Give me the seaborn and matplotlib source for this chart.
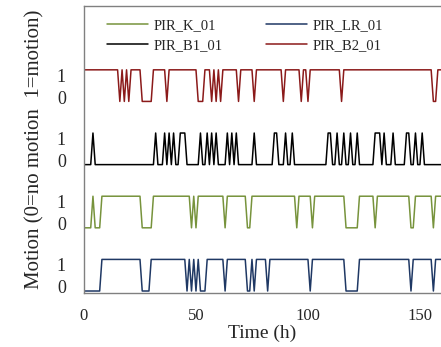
import numpy as np
import pandas as pd
import matplotlib
matplotlib.use("Agg")
import matplotlib.pyplot as plt
import seaborn as sns

# hourly 0/1 motion states (hours 0..160), groups of 10 hours
pir_b2_01 = ("1111111111" "1111110101" "0111110000" "0111111011" "1111111111"
             "1000111010" "1011111110" "1111110111" "1111111110" "1111111011"
             "0111111111" "1111101111" "1111111111" "1111111111" "1111111111"
             "1111110011" "1")
pir_b1_01 = ("0000100000" "0000000000" "0000000000" "0010001010" "1001110000"
             "0010010101" "0000101010" "0000001000" "0000011000" "1001000000"
             "0000000001" "1001001001" "0010000000" "1110100010" "0000110010"
             "0100000000" "0")
pir_k_01 = ("0000100011" "1111111111" "1111110000" "0111111111" "1111111101"
            "0111111111" "1110111111" "1110011111" "1111111111" "1111101111"
            "1101111111" "1111111000" "0001111111" "0111111111" "1111110011"
            "1111110111" "1")
pir_lr_01 = ("0000000011" "1111111111" "1111110000" "1111111111" "1111110101"
             "0100011111" "1110111111" "1110010111" "1101111111" "1111111111"
             "1011111111" "1111111000" "0001111111" "1111111111" "1111110111"
             "1111110111" "1")

sensors = ["PIR_K_01", "PIR_LR_01", "PIR_B1_01", "PIR_B2_01"]
series_states = [pir_k_01, pir_lr_01, pir_b1_01, pir_b2_01]
offsets = [2, 0, 4, 6]
colors = ["#77933C", "#1F3864", "#000000", "#8B1A1A"]
x_ticks = [0, 50, 100, 150]

rows = []
for name, states, off in zip(sensors, series_states, offsets):
    for h, s in enumerate(states):
        rows.append({"hour": h, "value": int(s) + off, "sensor": name})
df = pd.DataFrame(rows)

sns.set_style("white")
plt.rcParams["font.family"] = ["Liberation Serif", "DejaVu Serif"]

fig = plt.figure(figsize=(4.41, 3.47), dpi=100)
ax = fig.add_axes([84 / 441, 54 / 347, 1 - 84 / 441, (293 - 6) / 347])

for name, col in zip(sensors, colors):
    sns.lineplot(data=df[df["sensor"] == name], x="hour", y="value",
                 color=col, linewidth=1.1, ax=ax, label=name)

ax.set_xlim(0, 159.4)
ax.set_ylim(-0.063, 9.02)
ax.set_xticks(x_ticks)
ax.set_xticklabels([str(t) for t in x_ticks])
yt, yl = [], []
for off in [0, 2, 4, 6]:
    yt += [off + 0.13, off + 0.83]
    yl += ["0", "1"]
ax.set_yticks(yt)
ax.set_yticklabels(yl)
ax.tick_params(axis="x", length=0, labelsize=12, pad=11)
ax.tick_params(axis="y", length=0, labelsize=13, pad=13)

ax.set_xlabel("Time (h)", fontsize=14, labelpad=0)
ax.set_ylabel("Motion (0=no motion  1=motion)", fontsize=15, labelpad=9)

for s in ["left", "top", "bottom"]:
    ax.spines[s].set_color("#808080")
    ax.spines[s].set_linewidth(1.0)
ax.spines["right"].set_visible(False)

h, l = ax.get_legend_handles_labels()
order = [l.index(n) for n in ["PIR_K_01", "PIR_B1_01", "PIR_LR_01", "PIR_B2_01"]]
ax.legend([h[i] for i in order], [l[i] for i in order], ncol=2, frameon=False,
          fontsize=10.5, loc="upper left", bbox_to_anchor=(0.028, 1.0),
          handlelength=2.8, handletextpad=0.4, columnspacing=2.95, labelspacing=0.45)

fig.savefig("out.png", dpi=100)
